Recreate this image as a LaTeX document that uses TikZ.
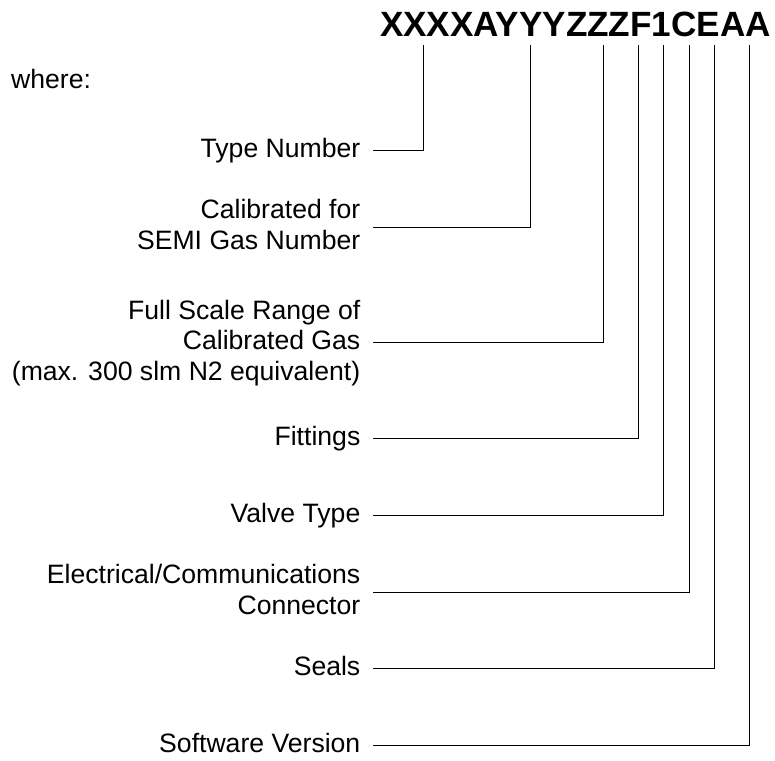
\documentclass[tikz,border=0pt]{standalone}
\usepackage{fontspec}
\setmainfont{Liberation Sans}
\newcommand\lstrut{\rule[-5.6pt]{0pt}{24.6pt}}
\begin{document}
\begin{tikzpicture}[x=1pt,y=-1pt,
  lbl/.style={anchor=east,inner sep=0pt,align=right,font=\fontsize{26.6}{30.5}\selectfont},
  lead/.style={draw=black,line width=1pt}]
\useasboundingbox (0,0) rectangle (775,760);
\node[anchor=base east,inner sep=0pt,font=\fontsize{35.1}{40}\selectfont\bfseries] (code) at (771,37) {XXXXAYYYZZZF1CEAA};
\node[anchor=base west,inner sep=0pt,font=\fontsize{26.6}{30.5}\selectfont] (where) at (11,88) {where:};
\node[lbl] (l1) at (360.5,150.7) {Type Number\lstrut};
\node[lbl] (l2) at (360.5,227.3) {Calibrated for\lstrut\\SEMI Gas Number\lstrut};
\node[lbl] (l3) at (360.5,342.7) {Full Scale Range of\lstrut\\Calibrated Gas\lstrut\\(max. 300 slm N2 equivalent)\lstrut};
\node[lbl] (l4) at (360.5,438.7) {Fittings\lstrut};
\node[lbl] (l5) at (360.5,515.3) {Valve Type\lstrut};
\node[lbl] (l6) at (360.5,592) {Electrical/Communications\lstrut\\Connector\lstrut};
\node[lbl] (l7) at (360.5,668.7) {Seals\lstrut};
\node[lbl] (l8) at (360.5,745.3) {Software Version\lstrut};
\coordinate (t1) at (423.3,45);
\coordinate (t2) at (530.3,45);
\coordinate (t3) at (603,45);
\coordinate (t4) at (638.3,45);
\coordinate (t5) at (663.7,45);
\coordinate (t6) at (689,45);
\coordinate (t7) at (714.3,45);
\coordinate (t8) at (749.3,45);
\foreach \i in {1,...,8}{
  \draw[lead] ([xshift=12.5pt]l\i.east) -| (t\i);
}
\end{tikzpicture}
\end{document}
